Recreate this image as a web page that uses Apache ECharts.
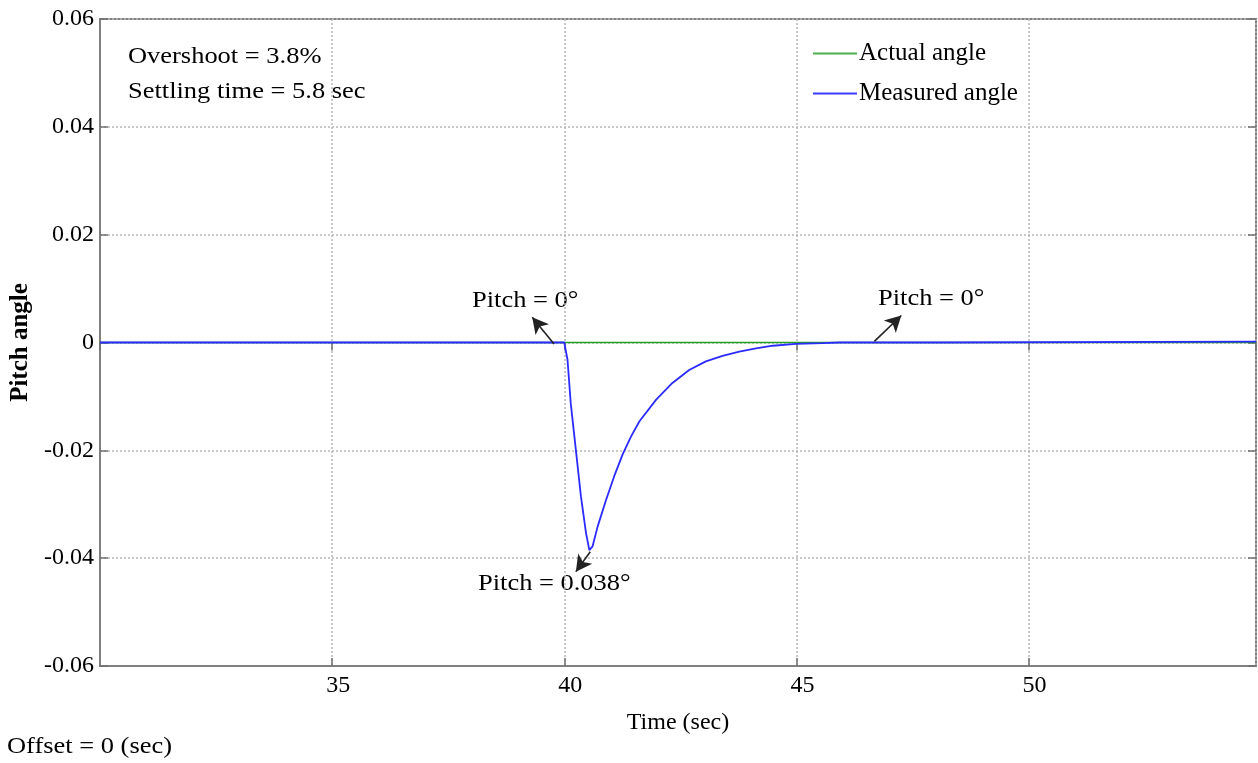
<!DOCTYPE html>
<html>
<head>
<meta charset="utf-8">
<script src="https://cdn.jsdelivr.net/npm/echarts@6/dist/echarts.min.js"></script>
<style>
html,body{margin:0;padding:0;background:#fff;}
#chart{width:1258px;height:763px;}
</style>
</head>
<body>
<div id="chart"></div>
<script>
// ---- data ----
var actualTime  = [30, 54.9];
var actualAngle = [0, 0];

var measuredTime  = [30, 40.0, 40.07, 40.14, 40.25, 40.36, 40.47, 40.54, 40.61, 40.72, 40.9, 41.08, 41.26, 41.44, 41.62, 41.98, 42.33, 42.69, 43.05, 43.41, 43.77, 44.13, 44.49, 44.99, 45.57, 45.93, 48.1, 48.12, 54.9];
var measuredAngle = [0, 0, -0.0032, -0.0113, -0.0199, -0.0286, -0.0354, -0.0385, -0.0378, -0.0341, -0.0292, -0.0247, -0.0207, -0.0174, -0.0146, -0.0106, -0.0075, -0.0051, -0.0035, -0.0025, -0.0017, -0.0011, -0.0006, -0.00025, -0.0001, 0, 0, 0.00015, 0.00015];

var xTicks = [35, 40, 45, 50];
var yTickLabels = ['-0.06', '-0.04', '-0.02', '0', '0.02', '0.04', '0.06'];

// annotation arrows: [tailX, tailY, headX, headY] in data units
var arrowA = [39.78, -0.0003, 39.31, 0.0047];
var arrowB = [40.56, -0.0388, 40.25, -0.0425];
var arrowC = [46.68, 0.0002, 47.26, 0.005];

function pairs(xs, ys) { return xs.map(function (x, i) { return [x, ys[i]]; }); }

var FONT = 'Liberation Serif';
var chart = echarts.init(document.getElementById('chart'), null, {renderer: 'canvas'});

function yFmt(v) {
  var r = Math.round(v * 100) / 100;
  var s = (r === 0) ? '0' : r.toFixed(2);
  return yTickLabels.indexOf(s) >= 0 ? s : '';
}
function xFmt(v) {
  var r = Math.round(v * 10) / 10;
  return xTicks.indexOf(r) >= 0 ? String(r) : '';
}

function arrowLine(a) {
  return [{coord: [a[0], a[1]]}, {coord: [a[2], a[3]]}];
}

function txt(s, x, y) {
  return {type: 'text', x: x, y: y, scaleX: 1.15,
    style: {text: s, font: '23px "' + FONT + '"', fill: '#000', textAlign: 'left', textVerticalAlign: 'middle'}};
}

var option = {
  animation: false,
  backgroundColor: '#ffffff',
  grid: {left: 100, right: 2, top: 19, bottom: 97, show: true, borderColor: '#808080', borderWidth: 2, backgroundColor: 'transparent'},
  legend: {
    orient: 'vertical', left: 808, top: 36,
    icon: 'rect', itemWidth: 44, itemHeight: 2, itemGap: 15,
    textStyle: {fontFamily: FONT, fontSize: 25, color: '#000', lineHeight: 25, padding: [0, 0, 0, -3]},
    data: ['Actual angle', 'Measured angle']
  },
  xAxis: [{
    type: 'value', min: 30, max: 54.9, interval: 5,
    name: 'Time (sec)', nameLocation: 'middle', nameGap: 45,
    nameTextStyle: {fontFamily: FONT, fontSize: 24, color: '#000'},
    axisLine: {show: true, onZero: false, lineStyle: {color: '#808080', width: 2}},
    axisTick: {show: true, inside: true, length: 8, lineStyle: {color: '#707070', width: 1.5}},
    axisLabel: {show: true, formatter: xFmt, fontFamily: FONT, fontSize: 24, color: '#000', margin: 8, padding: [0, 0, 0, 12], showMinLabel: false, showMaxLabel: false},
    splitLine: {show: true, lineStyle: {color: '#b8b8b8', type: [2, 2], width: 1.5}}
  }, {
    type: 'value', min: 30, max: 54.9, interval: 5, position: 'top',
    axisLine: {show: false},
    axisTick: {show: true, inside: true, length: 8, lineStyle: {color: '#707070', width: 1.5}},
    axisLabel: {show: false},
    splitLine: {show: false}
  }],
  yAxis: [{
    type: 'value', min: -0.06, max: 0.06, interval: 0.02,
    name: 'Pitch angle', nameLocation: 'middle', nameGap: 64, nameRotate: 90,
    nameTextStyle: {fontFamily: FONT, fontSize: 25, fontWeight: 'bold', color: '#000'},
    axisLine: {show: true, onZero: false, lineStyle: {color: '#808080', width: 2}},
    axisTick: {show: true, inside: true, length: 8, lineStyle: {color: '#707070', width: 1.5}},
    axisLabel: {show: true, formatter: yFmt, fontFamily: FONT, fontSize: 24, color: '#000', margin: 6},
    splitLine: {show: true, lineStyle: {color: '#b8b8b8', type: [2, 2], width: 1.5}}
  }, {
    type: 'value', min: -0.06, max: 0.06, interval: 0.02, position: 'right',
    axisLine: {show: false},
    axisTick: {show: true, inside: true, length: 8, lineStyle: {color: '#707070', width: 1.5}},
    axisLabel: {show: false},
    splitLine: {show: false}
  }],
  series: [{
    name: 'Actual angle', type: 'line', xAxisIndex: 0, yAxisIndex: 0,
    data: pairs(actualTime, actualAngle),
    showSymbol: false, symbol: 'none',
    lineStyle: {color: '#22a022', width: 1.6},
    itemStyle: {color: '#4caf4c'},
    z: 2
  }, {
    name: 'Measured angle', type: 'line', xAxisIndex: 0, yAxisIndex: 0,
    data: pairs(measuredTime, measuredAngle),
    showSymbol: false, symbol: 'none', smooth: false,
    lineStyle: {color: '#2b2bff', width: 1.8},
    itemStyle: {color: '#3a3aff'},
    z: 3,
    markLine: {
      silent: true, animation: false,
      symbol: ['none', 'arrow'], symbolSize: [13, 16],
      label: {show: false},
      lineStyle: {color: '#222', type: 'solid', width: 1.6},
      emphasis: {disabled: true},
      data: [arrowLine(arrowA), arrowLine(arrowB), arrowLine(arrowC)]
    }
  }],
  graphic: [
    txt('Overshoot = 3.8%', 128, 57),
    txt('Settling time = 5.8 sec', 128, 92),
    txt('Pitch = 0°', 472, 301),
    txt('Pitch = 0.038°', 478, 584),
    txt('Pitch = 0°', 878, 299),
    txt('Offset = 0 (sec)', 7, 747)
  ]
};
chart.setOption(option);
</script>
</body>
</html>
